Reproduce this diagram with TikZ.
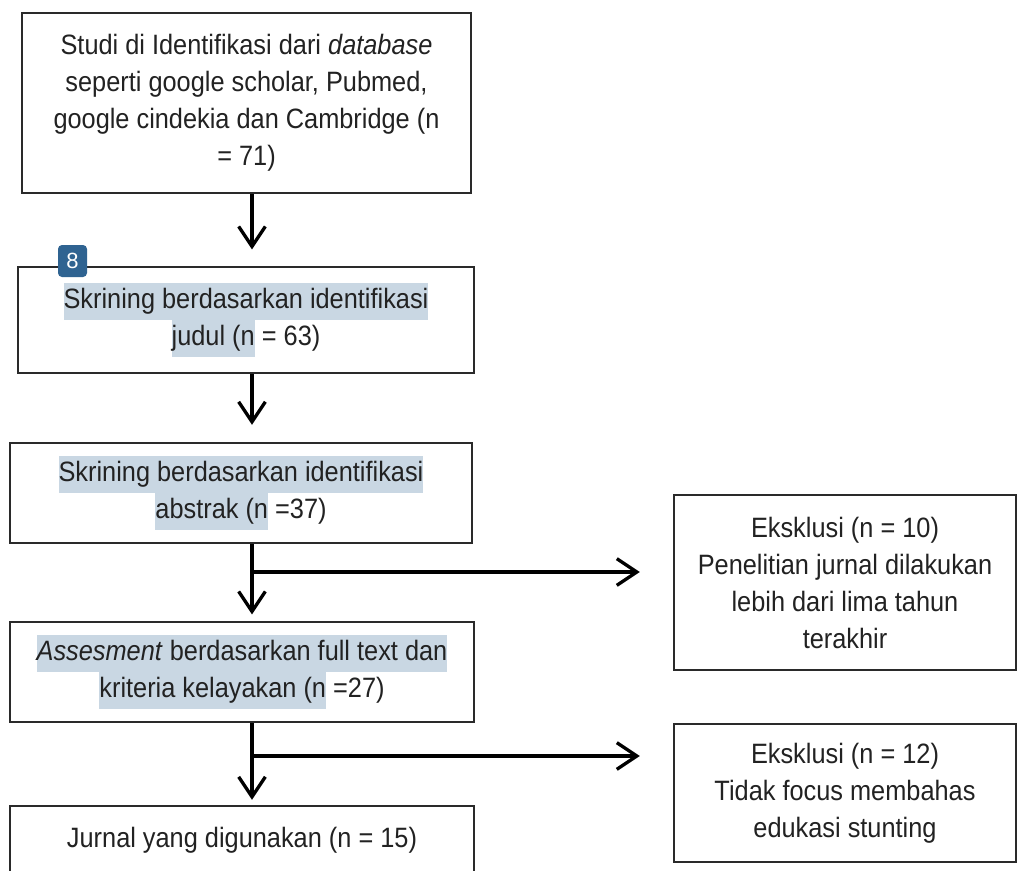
\documentclass[tikz,border=0pt]{standalone}
\usepackage{fontspec}
\setmainfont[FakeStretch=0.905]{Liberation Sans}
\newfontfamily\badgefont{Liberation Sans}
\usetikzlibrary{arrows.meta,calc}
\definecolor{hlblue}{HTML}{C9D7E3}
\definecolor{badgeblue}{HTML}{2F6391}
\definecolor{txt}{HTML}{222222}
\definecolor{edge}{HTML}{2A2A2A}
\newcommand\hlt[1]{{\setlength{\fboxsep}{0pt}\colorbox{hlblue}{\strut #1}}}
\tikzset{
  box/.style={draw=edge, line width=1.3pt, inner sep=0pt, align=center, text=txt,
    font=\fontsize{21}{27.75}\selectfont},
  arr/.style={draw=black, line width=2.5pt,
    -{Straight Barb[length=15pt,width=20pt,line width=2.5pt]}},
  badge/.style={fill=badgeblue, rounded corners=3pt, text=white, inner sep=0pt,
    minimum width=21.75pt, minimum height=24pt, font=\badgefont\fontsize{16.5}{18}\selectfont}
}
\begin{document}
\begin{tikzpicture}[x=0.75pt,y=-0.75pt]
\useasboundingbox (0,0) rectangle (1018,871);
\clip (0,0) rectangle (1018,871);
\fill[white] (0,0) rectangle (1018,871);

\node[box, minimum width=336.75pt, minimum height=135pt] (b1) at (246.5,103)
  {Studi di Identifikasi dari \textit{database}\\ seperti google scholar, Pubmed,\\ google cindekia dan Cambridge (n\\ = 71)};
\node[box, minimum width=342pt, minimum height=79.5pt] (b2) at (246,320)
  {\hlt{Skrining berdasarkan identifikasi}\\ \hlt{judul (n} = 63)};
\node[box, minimum width=346.5pt, minimum height=75pt] (b3) at (241,493)
  {\hlt{Skrining berdasarkan identifikasi}\\ \hlt{abstrak (n} =37)};
\node[box, minimum width=348pt, minimum height=75pt] (b4) at (242,672)
  {\hlt{\textit{Assesment} berdasarkan full text dan}\\ \hlt{kriteria kelayakan (n} =27)};
\node[box, minimum width=348pt, minimum height=51pt] (b5) at (242,840)
  {Jurnal yang digunakan (n = 15)};
\node[box, minimum width=256.5pt, minimum height=131.25pt] (e1) at (845,582.5)
  {Eksklusi (n = 10)\\ Penelitian jurnal dilakukan\\ lebih dari lima tahun\\ terakhir};
\node[box, minimum width=256.5pt, minimum height=103.5pt] (e2) at (845,793)
  {Eksklusi (n = 12)\\ Tidak focus membahas\\ edukasi stunting};

\node[badge] (bdg) at (72.5,261) {8};

\coordinate (xl) at (252,0);
\coordinate (j1) at (252,572);
\coordinate (j2) at (252,756);

\draw[arr, shorten >=12.5pt] (b1.south -| xl) -- (b2.north -| xl);
\draw[arr, shorten >=13pt] (b2.south -| xl) -- (b3.north -| xl);
\draw[arr, shorten >=5pt] (b3.south -| xl) -- (b4.north -| xl);
\draw[arr, shorten >=4pt] (b4.south -| xl) -- (b5.north -| xl);
\draw[arr, shorten >=25pt] (j1) -- (j1 -| e1.west);
\draw[arr, shorten >=25pt] (j2) -- (j2 -| e2.west);
\end{tikzpicture}
\end{document}
